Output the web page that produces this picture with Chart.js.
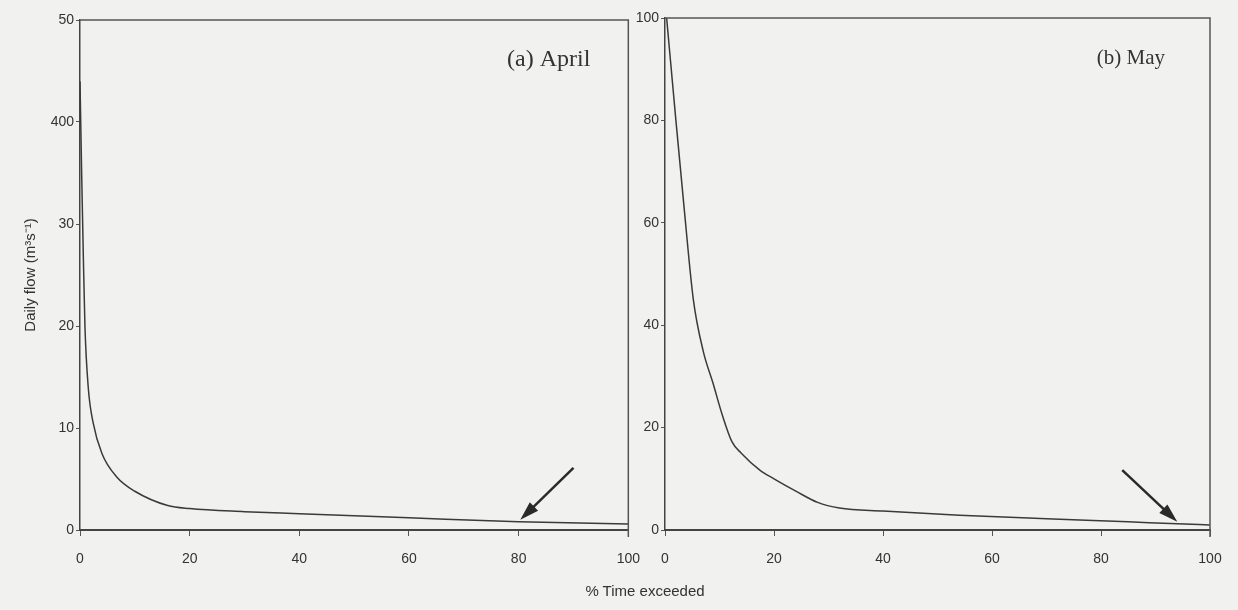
<!DOCTYPE html>
<html>
<head>
<meta charset="utf-8">
<script src="https://cdn.jsdelivr.net/npm/chart.js@4"></script>
<style>
  body { margin: 0; background: #f1f1f0; }
  #wrap { position: relative; width: 1238px; height: 610px; }
  .box { position: absolute; top: 0; height: 610px; }
  #xtitle {
    position: absolute; left: 0; width: 1290px; top: 582px;
    text-align: center; font: 15px "Liberation Sans", Arial, sans-serif; color: #333;
  }
</style>
</head>
<body>
<div id="wrap">
  <div class="box" style="left:0;width:655px"><canvas id="chartA"></canvas></div>
  <div class="box" style="left:600px;width:638px"><canvas id="chartB"></canvas></div>
  <div id="xtitle">% Time exceeded</div>
</div>
<script>
// (a) April - flow duration curve
var pctA  = [0, 0.3, 0.6, 0.9, 1.5, 2.4, 4, 6.7, 10, 16, 20, 30, 40, 60, 80, 100];
var flowA = [44, 35, 27, 20, 14, 10.5, 7.5, 5.2, 3.8, 2.4, 2.1, 1.8, 1.6, 1.2, 0.8, 0.6];
var yTicksA = ["0", "10", "20", "30", "400", "50"];

// (b) May
var pctB  = [0.3, 2, 3.5, 5.2, 7, 8.8, 10.5, 12.3, 14, 17.4, 20, 24, 28, 32, 40, 54, 70, 85, 94, 100];
var flowB = [100, 80, 63, 45, 35, 28.7, 22.5, 17.2, 15, 11.7, 10, 7.6, 5.4, 4.3, 3.7, 2.9, 2.2, 1.6, 1.2, 1.0];
var yTicksB = ["0", "20", "40", "60", "80", "100"];

// arrows: [tailX, tailY, tipX, tipY] in data units
var arrowA = [90, 6.1, 80.3, 1.0];
var arrowB = [83.9, 11.7, 94, 1.6];

var ink = "#3a3a3a";
var tickFont = { family: "Liberation Sans", size: 14 };

function points(xs, ys) {
    return xs.map(function (x, i) { return { x: x, y: ys[i] }; });
}

// frame on top and right + arrow + panel label
var extras = {
    id: "extras",
    afterDraw: function (chart, args, opts) {
        var c = chart.ctx, a = chart.chartArea;
        var sx = chart.scales.x, sy = chart.scales.y;
        c.save();
        c.strokeStyle = "#555";
        c.lineWidth = 1.5;
        c.beginPath();
        c.moveTo(a.left, a.top);
        c.lineTo(a.right, a.top);
        c.lineTo(a.right, a.bottom + 7);
        c.stroke();

        // arrow
        var r = opts.arrow;
        var x1 = sx.getPixelForValue(r[0]), y1 = sy.getPixelForValue(r[1]);
        var x2 = sx.getPixelForValue(r[2]), y2 = sy.getPixelForValue(r[3]);
        var ang = Math.atan2(y2 - y1, x2 - x1);
        c.strokeStyle = "#2a2a2a";
        c.fillStyle = "#2a2a2a";
        c.lineWidth = 2.5;
        c.beginPath();
        c.moveTo(x1, y1);
        c.lineTo(x2 - 12 * Math.cos(ang), y2 - 12 * Math.sin(ang));
        c.stroke();
        c.beginPath();
        c.moveTo(x2, y2);
        c.lineTo(x2 - 20 * Math.cos(ang - 0.3), y2 - 20 * Math.sin(ang - 0.3));
        c.lineTo(x2 - 20 * Math.cos(ang + 0.3), y2 - 20 * Math.sin(ang + 0.3));
        c.closePath();
        c.fill();

        // panel label
        c.font = opts.labelSize + "px 'Liberation Serif'";
        c.fillStyle = "#333";
        c.textAlign = "right";
        c.textBaseline = "alphabetic";
        c.fillText(opts.label, a.right - opts.labelRight, a.top + 46);
        c.restore();
    }
};

function makeChart(id, xs, ys, yMax, yStep, yLabels, yWidth, pad, yTitle, arrow, label, labelRight, labelSize) {
    return new Chart(document.getElementById(id), {
        type: "line",
        data: {
            datasets: [{
                data: points(xs, ys),
                borderColor: ink,
                borderWidth: 1.5,
                pointRadius: 0,
                cubicInterpolationMode: "monotone",
                fill: false
            }]
        },
        options: {
            responsive: true,
            maintainAspectRatio: false,
            animation: false,
            layout: { padding: pad },
            plugins: {
                legend: { display: false },
                tooltip: { enabled: false },
                extras: { arrow: arrow, label: label, labelRight: labelRight, labelSize: labelSize }
            },
            scales: {
                x: {
                    type: "linear",
                    min: 0, max: 100,
                    afterFit: function (s) { s.height = 80; },
                    ticks: { stepSize: 20, color: "#333", font: tickFont, padding: 15, maxRotation: 0 },
                    grid: { drawOnChartArea: false, drawTicks: true, tickLength: 6, color: "#555" },
                    border: { color: "#444", width: 2 }
                },
                y: {
                    min: 0, max: yMax,
                    afterFit: function (s) { s.width = yWidth; },
                    ticks: {
                        stepSize: yStep, color: "#333", font: tickFont, padding: 2,
                        callback: function (v, i) { return yLabels[i]; }
                    },
                    grid: { drawOnChartArea: false, drawTicks: true, tickLength: 4, color: "#555" },
                    border: { color: "#444", width: 1.5 },
                    title: {
                        display: !!yTitle,
                        text: yTitle,
                        color: "#333",
                        font: { family: "Liberation Sans", size: 15 },
                        padding: { top: 22, bottom: 0 }
                    }
                }
            }
        },
        plugins: [extras]
    });
}

makeChart("chartA", pctA, flowA, 50, 10, yTicksA, 80,
    { top: 20, right: 0, bottom: 0, left: 0 },
    "Daily flow (m\u00b3s\u207b\u00b9)", arrowA, "(a) April", 38, 24);

makeChart("chartB", pctB, flowB, 100, 20, yTicksB, 65,
    { top: 18, right: 28, bottom: 0, left: 0 },
    "", arrowB, "(b) May", 45, 21);
</script>
</body>
</html>
